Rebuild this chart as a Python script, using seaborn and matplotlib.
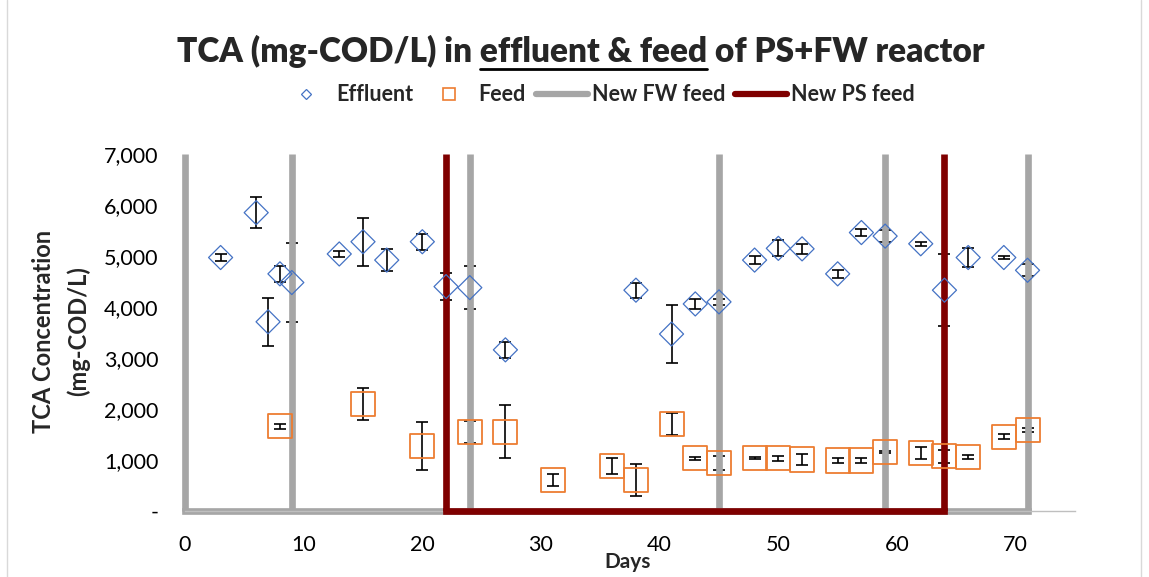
import matplotlib
matplotlib.use("Agg")
import matplotlib.pyplot as plt
from matplotlib.lines import Line2D
import pandas as pd
import seaborn as sns

# ---- data -------------------------------------------------------------
eff_days = [3, 6, 7, 8, 9, 13, 15, 17, 20, 22, 24, 27, 38, 41, 43, 45,
            48, 50, 52, 55, 57, 59, 62, 64, 66, 69, 71]
eff_tca = [4970, 5850, 3710, 4650, 4480, 5040, 5280, 4920, 5280, 4400, 4380,
           3160, 4330, 3470, 4060, 4100, 4920, 5150, 5140, 4650, 5460, 5390,
           5240, 4330, 4970, 4970, 4720]
eff_sd = [60, 310, 470, 160, 780, 50, 470, 210, 160, 260, 420, 160, 150, 570,
          100, 55, 85, 155, 100, 85, 70, 115, 36, 700, 190, 26, 115]

feed_days = [8, 15, 20, 24, 27, 31, 36, 38, 41, 43, 45, 48, 50, 52, 55, 57,
             59, 62, 64, 66, 69, 71]
feed_tca = [1660, 2100, 1280, 1550, 1550, 610, 880, 610, 1710, 1030, 940,
            1030, 1030, 1010, 990, 990, 1160, 1140, 1070, 1060, 1460, 1590]
feed_sd = [55, 310, 470, 210, 520, 110, 160, 310, 210, 33, 140, 20, 43, 115,
           43, 43, 20, 120, 120, 40, 46, 46]

fw_days = [0, 9, 24, 45, 59, 71]      # new food-waste feed batches
ps_days = [22, 64]                    # new primary-sludge feed batches
guide_top = 7000

x_ticks = [0, 10, 20, 30, 40, 50, 60, 70]
y_ticks = [0, 1000, 2000, 3000, 4000, 5000, 6000, 7000]
y_tick_labels = ["-", "1,000", "2,000", "3,000", "4,000", "5,000", "6,000", "7,000"]

# ---- style ------------------------------------------------------------
BLUE = "#4472C4"
ORANGE = "#ED7D31"
GREY = "#A6A6A6"
DARKRED = "#7F0000"

sns.set_theme(style="white")
plt.rcParams["font.family"] = ["Lato", "DejaVu Sans"]

W, H = 1149, 577
fig = plt.figure(figsize=(W / 100, H / 100), dpi=100)
ax = fig.add_axes([185 / W, 1 - 511 / H, (1075 - 185) / W, (511 - 154) / H])


def verticals(days):
    rows = []
    for i, d in enumerate(days):
        rows.append((d, 0, i))
        rows.append((d, guide_top, i))
    return pd.DataFrame(rows, columns=["day", "tca", "seg"])


def baseline(days):
    return pd.DataFrame({"day": [days[0], days[-1]], "tca": [0, 0]})


# error bars sit underneath the batch lines
ax.errorbar(eff_days, eff_tca, yerr=eff_sd, fmt="none", ecolor="black",
            elinewidth=1.2, capsize=4.5, capthick=1.2, zorder=1)
ax.errorbar(feed_days, feed_tca, yerr=feed_sd, fmt="none", ecolor="black",
            elinewidth=1.2, capsize=4.5, capthick=1.2, zorder=1)

LW = 4.8
for days, col, z in [(fw_days, GREY, 2), (ps_days, DARKRED, 3)]:
    sns.lineplot(data=verticals(days), x="day", y="tca", units="seg",
                 estimator=None, sort=False, color=col, lw=LW,
                 solid_capstyle="butt", clip_on=False, zorder=z,
                 legend=False, ax=ax)
    sns.lineplot(data=baseline(days), x="day", y="tca", estimator=None,
                 sort=False, color=col, lw=LW, solid_capstyle="projecting",
                 clip_on=False, zorder=z, legend=False, ax=ax)

sns.scatterplot(x=eff_days, y=eff_tca, marker="D", s=150, color=BLUE,
                facecolor="none", edgecolor=BLUE, linewidth=0.9,
                zorder=5, clip_on=False, ax=ax)
sns.scatterplot(x=feed_days, y=feed_tca, marker="s", s=300, color=ORANGE,
                facecolor="none", edgecolor=ORANGE, linewidth=1.3,
                zorder=5, clip_on=False, ax=ax)
for coll in ax.collections[-2:]:
    coll.set_facecolor("none")

ax.set_xlim(0, 75)
ax.set_ylim(0, 7000)
ax.set_xticks(x_ticks)
ax.set_yticks(y_ticks)
ax.set_yticklabels(y_tick_labels)
ax.tick_params(axis="both", length=0, labelsize=15.5, colors="black")
ax.tick_params(axis="x", pad=17.5)
ax.tick_params(axis="y", pad=19)
for side in ["top", "right", "left"]:
    ax.spines[side].set_visible(False)
ax.spines["bottom"].set_color("#BFBFBF")
ax.spines["bottom"].set_linewidth(1.0)
ax.set_xlabel("")
ax.set_ylabel("")

fig.text(628 / W, 1 - 562 / H, "Days", ha="center", va="center",
         fontsize=15, fontweight="bold")
fig.text(61 / W, 1 - 331 / H, "TCA Concentration\n(mg-COD/L)", rotation=90,
         ha="center", va="center", multialignment="center",
         fontsize=17, fontweight="bold", linespacing=1.55)

# ---- title with the underlined middle part ------------------------------
part_a = "TCA (mg-COD/L) in "
part_b = "effluent & feed"
part_c = " of PS+FW reactor"
TITLE_KW = dict(fontsize=24, fontweight="heavy")
title = fig.text(0.5 * (179 + 983) / W, 1 - 51 / H, part_a + part_b + part_c,
                 ha="center", va="center", **TITLE_KW)
fig.canvas.draw()
renderer = fig.canvas.get_renderer()


def text_width(s):
    t = fig.text(0, 0, s, **TITLE_KW)
    w = t.get_window_extent(renderer).width
    t.remove()
    return w


bb = title.get_window_extent(renderer)
x_end = bb.x0 + text_width(part_a + part_b)
x_start = x_end - text_width(part_b)
uy = 1 - 69 / H
fig.add_artist(Line2D([x_start / W, x_end / W], [uy, uy], color="black", lw=2.0))

# ---- legend -----------------------------------------------------------
handles = [
    Line2D([], [], ls="none", marker="D", ms=5.5, mfc="none", mec=BLUE, mew=0.9),
    Line2D([], [], ls="none", marker="s", ms=8, mfc="none", mec=ORANGE, mew=1.2),
    Line2D([], [], color=GREY, lw=4.5, solid_capstyle="round"),
    Line2D([], [], color=DARKRED, lw=4.5, solid_capstyle="round"),
]
labels = ["Effluent", "Feed", "New FW feed", "New PS feed"]
leg = fig.legend(handles, labels, loc="center", ncol=4, frameon=False,
                 bbox_to_anchor=(597 / W, 1 - 95 / H),
                 prop={"weight": "bold", "size": 15.5},
                 handlelength=2.45, handletextpad=0.15, columnspacing=0.45)

# chart-area border
for xb in (7, 1141):
    fig.add_artist(Line2D([xb / W, xb / W], [0, 1], color="#D9D9D9", lw=1.0))

fig.savefig("out.png", dpi=100)
